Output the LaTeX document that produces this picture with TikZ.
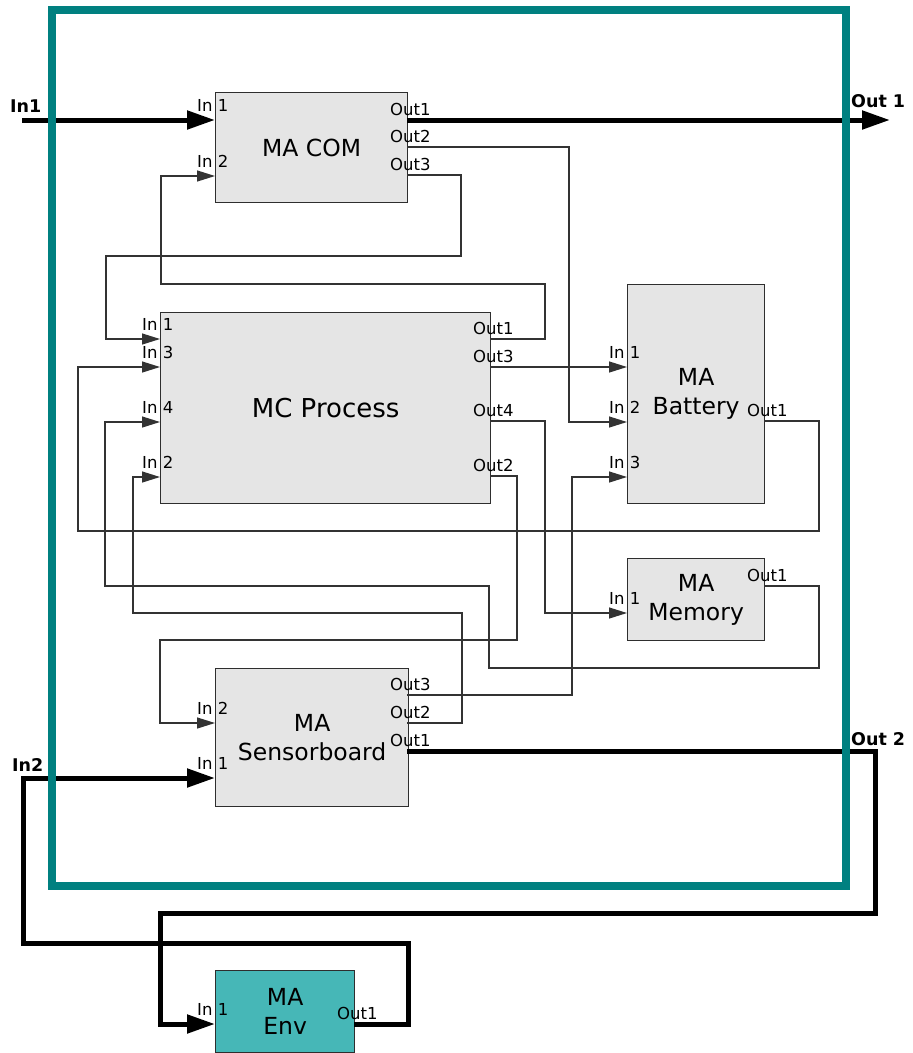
\documentclass[tikz,border=0pt]{standalone}
\usepackage{fontspec}
\setmainfont{DejaVu Sans}
\usetikzlibrary{arrows.meta,calc}
\definecolor{frameteal}{HTML}{008080}
\definecolor{envteal}{HTML}{46B7B7}
\definecolor{boxgrey}{HTML}{E5E5E5}
\definecolor{boxline}{HTML}{2E2E2E}
\definecolor{wiregrey}{HTML}{333333}
\tikzset{
  block/.style={draw=boxline, fill=boxgrey, line width=1.3pt, anchor=north west,
                inner sep=0pt, align=center, font=\fontsize{23.5}{29}\selectfont},
  envblock/.style={block, fill=envteal},
  wire/.style={draw=wiregrey, line width=1.3pt, -{Triangle[length=18pt,width=11pt]}},
  bigwire/.style={draw=black, line width=5pt, -{Triangle[length=28pt,width=18pt]}},
  inlab/.style={anchor=base west, inner sep=0pt, font=\fontsize{16.5}{16.5}\selectfont},
  outlab/.style={anchor=base west, inner sep=0pt, font=\fontsize{16.5}{16.5}\selectfont},
  extlab/.style={anchor=base west, inner sep=0pt, font=\fontsize{17.5}{17.5}\selectfont\bfseries},
  frame/.style={draw=frameteal, line width=8pt},
}
\begin{document}
\begin{tikzpicture}[x=1pt, y=-1pt]
\useasboundingbox (0,0) rectangle (913,1053);

% blocks
\node[block, minimum width=192pt, minimum height=110pt] (com) at (215,92) {MA COM};
\node[block, minimum width=330pt, minimum height=191pt, font=\fontsize{26}{30}\selectfont] (mc) at (160,312) {MC Process};
\node[block, minimum width=137pt, minimum height=219pt] (bat) at (627,284) {MA\\Battery};
\node[block, minimum width=137pt, minimum height=82pt] (mem) at (627,558) {MA\\Memory};
\node[block, minimum width=193pt, minimum height=138pt] (sb) at (215,668) {MA\\Sensorboard};
\node[envblock, minimum width=139pt, minimum height=82pt] (env) at (215,970) {MA\\Env};

% input ports
\foreach \n/\x/\y/\t in {com-i1/215/120/1, com-i2/215/176/2,
    mc-i1/160/339/1, mc-i3/160/367/3, mc-i4/160/422/4, mc-i2/160/477/2,
    bat-i1/627/367/1, bat-i2/627/422/2, bat-i3/627/477/3,
    mem-i1/627/613/1, sb-i2/215/723/2, sb-i1/215/778/1, env-i1/215/1024/1} {
  \coordinate (\n) at (\x,\y);
  \node[inlab] (\n-lab) at (\x-18,\y-9) {In \t};
}
% output ports
\foreach \n/\x/\y/\t in {com-o1/407/120/1, com-o2/407/147/2, com-o3/407/175/3,
    mc-o1/490/339/1, mc-o3/490/367/3, mc-o4/490/421/4, mc-o2/490/476/2,
    bat-o1/764/421/1, mem-o1/764/586/1,
    sb-o3/407/695/3, sb-o2/407/723/2, sb-o1/407/751/1, env-o1/354/1024/1} {
  \coordinate (\n) at (\x,\y);
  \node[outlab] (\n-lab) at (\x-17,\y-5) {Out\t};
}

% outside ports
\coordinate (in1) at (22,120);
\coordinate (out1) at (890,120);
\node[extlab] (in1-lab) at (10,112) {In1};
\node[extlab] (out1-lab) at (851,107) {Out 1};
\node[extlab] (in2-lab) at (12,771) {In2};
\node[extlab] (out2-lab) at (851,745) {Out 2};

% thin signals
\draw[wire] (com-o2) -- ++(162,0) |- (bat-i2);
\draw[wire] (com-o3) -- ++(54,0) |- (106,256) |- (mc-i1);
\draw[wire] (mc-o1) -- ++(55,0) |- (161,284) |- (com-i2);
\draw[wire] (mc-o3) -- (bat-i1);
\draw[wire] (mc-o4) -- ++(55,0) |- (mem-i1);
\draw[wire] (mc-o2) -- ++(27,0) |- (160,640) |- (sb-i2);
\draw[wire] (sb-o3) -- ++(165,0) |- (bat-i3);
\draw[wire] (sb-o2) -- ++(55,0) |- (133,613) |- (mc-i2);
\draw[wire] (mem-o1) -- ++(55,0) |- (489,668) |- (105,586) |- (mc-i4);
\draw[wire] (bat-o1) -- ++(55,0) |- (78,531) |- (mc-i3);

% thick signals
\draw[bigwire] (in1) -- (com-i1);
\draw[bigwire] (com-o1) -- (out1);
\draw[bigwire] (sb-o1) -- ++(468,0) |- (160,913) |- (env-i1);
\draw[bigwire] (env-o1) -- ++(54,0) |- (23,943) |- (sb-i1);

% subsystem frame
\draw[frame] (52,10) rectangle (846,886);
\end{tikzpicture}
\end{document}
